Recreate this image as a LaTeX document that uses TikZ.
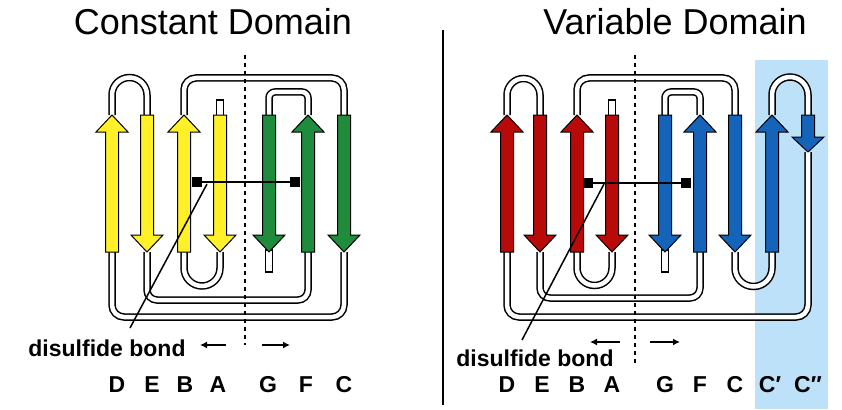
\documentclass[tikz,border=0pt]{standalone}
\usepackage{fontspec}
\setmainfont{Liberation Sans}
\definecolor{yel}{RGB}{255,240,40}
\definecolor{grn}{RGB}{30,140,60}
\definecolor{rd}{RGB}{185,10,10}
\definecolor{blu}{RGB}{20,100,185}
\definecolor{lblue}{RGB}{190,225,250}
\tikzset{tube/.style={draw=black,double=white,line width=1.5pt,double distance=4.5pt},
 stub/.style={draw=black,fill=white,line width=1.3pt},
 strand/.style={draw=black,line width=1pt,line join=miter},
 lab/.style={font=\bfseries\fontsize{23}{26}\selectfont},
 ttl/.style={font=\fontsize{36}{42}\selectfont},
 sbox/.style={fill=black,minimum size=10pt,inner sep=0pt},
 arr/.style={line width=1.5pt,-{Latex[length=7pt,width=7pt]}}}
\usetikzlibrary{arrows.meta}
\newcommand\strup[2]{\draw[strand,fill=#2] ({#1-6.5},-252)--({#1-6.5},-132)--({#1-16},-132)--(#1,-115)--({#1+16},-132)--({#1+6.5},-132)--({#1+6.5},-252)--cycle;}
\newcommand\strdn[2]{\draw[strand,fill=#2] ({#1-6.5},-115)--({#1-6.5},-235)--({#1-16},-235)--(#1,-252)--({#1+16},-235)--({#1+6.5},-235)--({#1+6.5},-115)--cycle;}
\begin{document}
\begin{tikzpicture}[x=1pt,y=1pt]
\useasboundingbox (0,0) rectangle (842,-409);
\fill[lblue] (755,-60) rectangle (828,-409);
\node[ttl] (t1) at (213,-22) {Constant Domain};
\node[ttl] (t2) at (675,-22) {Variable Domain};
\draw[line width=1.5pt] (443,-30) -- (443,-405);
% constant domain tubes
\draw[tube] (112,-115)--(112,-95) arc[start angle=180,end angle=0,radius=17.5]--(147,-115);
\draw[tube,rounded corners=12pt] (184,-115)--(184,-78)--(344,-78)--(344,-115);
\draw[tube,rounded corners=6pt] (269,-115)--(269,-92)--(308,-92)--(308,-115);
\draw[tube] (184,-252)--(184,-268) arc[start angle=180,end angle=360,radius=18]--(220,-252);
\draw[tube,rounded corners=10pt] (147,-252)--(147,-300)--(308,-300)--(308,-252);
\draw[tube,rounded corners=12pt] (112,-252)--(112,-317)--(344,-317)--(344,-252);
\draw[stub] (216.5,-100) rectangle (223.5,-116);
\draw[stub] (265.5,-250) rectangle (272.5,-272);
\strup{112}{yel}\strdn{147}{yel}\strup{184}{yel}\strdn{220}{yel}
\strdn{269}{grn}\strup{308}{grn}\strdn{344}{grn}
\draw[line width=1.5pt,dash pattern=on 4pt off 4pt] (245,-55)--(245,-345);
\node[sbox] (s1) at (197,-182) {};
\node[sbox] (s2) at (295,-182) {};
\draw[line width=1.5pt] (s1)--(s2);
\coordinate (l1) at (207,-184);
\coordinate (l1e) at (130,-328);
\draw[line width=1.5pt] (l1)--(l1e);
\node[lab] (d1) at (107,-348) {disulfide bond};
\coordinate (a1s) at (226,-345); \coordinate (a1e) at (200,-345);
\coordinate (a2s) at (262,-345); \coordinate (a2e) at (290,-345);
\draw[arr] (a1s)--(a1e);
\draw[arr] (a2s)--(a2e);
\foreach \x/\t [count=\i] in {117/D,152/E,185/B,218/A,268/G,306/F,344/C}
  \node[lab] (c\i) at (\x,-385) {\t};
% variable domain tubes
\draw[tube] (507,-115)--(507,-95) arc[start angle=180,end angle=0,radius=16.5]--(540,-115);
\draw[tube,rounded corners=12pt] (577,-115)--(577,-78)--(735,-78)--(735,-115);
\draw[tube,rounded corners=6pt] (665,-115)--(665,-92)--(700,-92)--(700,-115);
\draw[tube] (577,-252)--(577,-268) arc[start angle=180,end angle=360,radius=17.5]--(612,-252);
\draw[tube,rounded corners=10pt] (540,-252)--(540,-298)--(700,-298)--(700,-252);
\draw[tube] (735,-252)--(735,-268) arc[start angle=180,end angle=360,radius=18.5]--(772,-252);
\draw[tube] (772,-115)--(772,-95) arc[start angle=180,end angle=0,radius=18]--(808,-115);
\draw[tube,rounded corners=12pt] (507,-252)--(507,-317)--(808,-317)--(808,-152);
\draw[stub] (608.5,-100) rectangle (615.5,-116);
\draw[stub] (661.5,-250) rectangle (668.5,-272);
\strup{507}{rd}\strdn{540}{rd}\strup{577}{rd}\strdn{612}{rd}
\strdn{665}{blu}\strup{700}{blu}\strdn{735}{blu}\strup{772}{blu}
\draw[strand,fill=blu] (801.5,-115)--(801.5,-137)--(792,-137)--(808,-152)--(824,-137)--(814.5,-137)--(814.5,-115)--cycle;
\draw[line width=1.5pt,dash pattern=on 4pt off 4pt] (635,-55)--(635,-365);
\node[sbox] (s3) at (588,-183) {};
\node[sbox] (s4) at (686,-183) {};
\draw[line width=1.5pt] (s3)--(s4);
\coordinate (l2) at (604,-184);
\coordinate (l2e) at (522,-340);
\draw[line width=1.5pt] (l2)--(l2e);
\node[lab] (d2) at (535,-358) {disulfide bond};
\coordinate (a3s) at (620,-342); \coordinate (a3e) at (590,-342);
\coordinate (a4s) at (650,-342); \coordinate (a4e) at (680,-342);
\draw[arr] (a3s)--(a3e);
\draw[arr] (a4s)--(a4e);
\foreach \x/\t [count=\i] in {507/D,542/E,577/B,612/A,665/G,700/F,735/C,770/C′,808/C″}
  \node[lab] (v\i) at (\x,-385) {\t};
\end{tikzpicture}
\end{document}
